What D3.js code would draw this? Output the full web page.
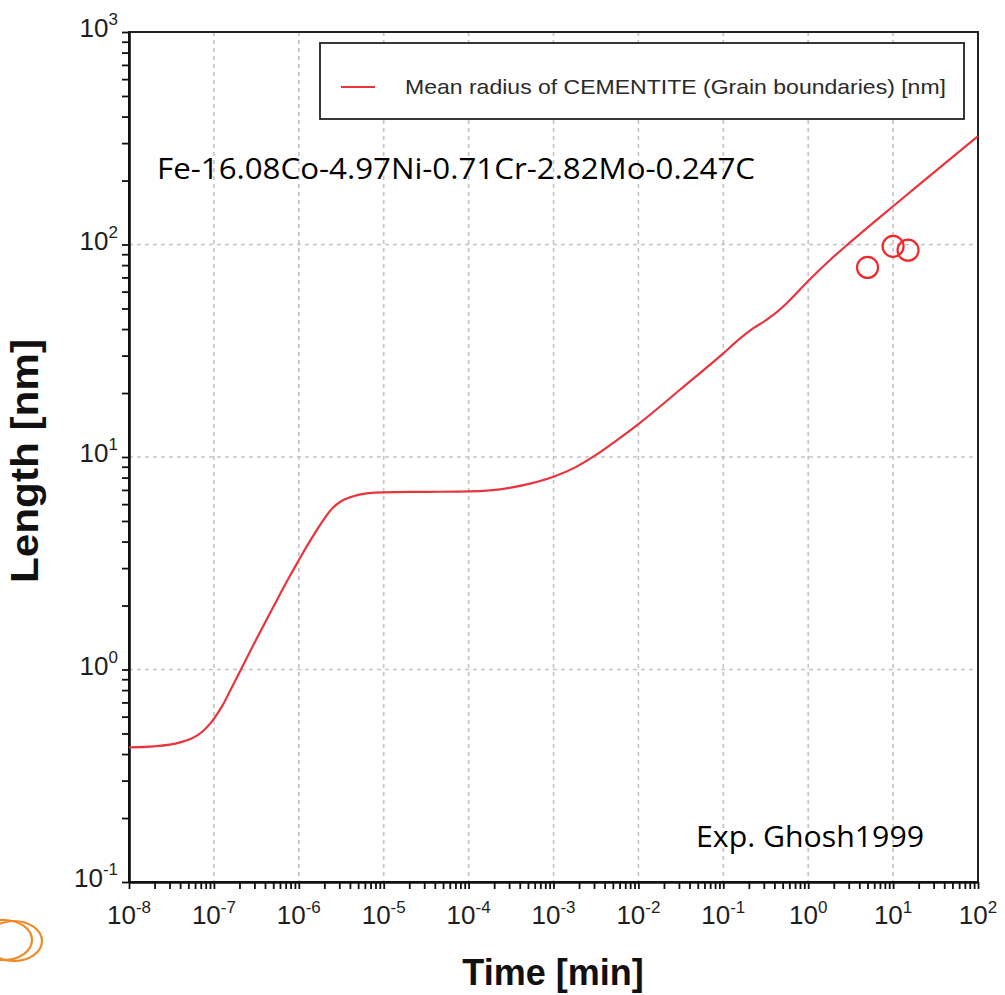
<!DOCTYPE html>
<html>
<head>
<meta charset="utf-8">
<script src="https://cdn.jsdelivr.net/npm/d3@7"></script>
<style>
  html, body { margin: 0; padding: 0; background: #fff; }
  svg { display: block; }
</style>
</head>
<body>
<svg id="chart" width="1005" height="995"></svg>
<script>
// Simulated mean radius of cementite on grain boundaries (time in min, radius in nm)
const simTime = [1e-8, 2e-8, 4e-8, 6.3e-8, 7.9e-8, 1e-7, 1.26e-7, 1.58e-7, 2e-7, 3.16e-7,
                 5e-7, 7.9e-7, 1e-6, 1.26e-6, 1.58e-6, 2e-6, 2.5e-6, 3.16e-6, 4e-6, 5e-6,
                 6.3e-6, 1e-5, 3.16e-5, 1e-4, 1.78e-4, 3.16e-4, 5.6e-4, 1e-3, 1.78e-3, 3.16e-3,
                 5.6e-3, 0.01, 0.0316, 0.1, 0.158, 0.224, 0.316, 0.398, 0.562, 1,
                 1.78, 3.16, 10, 31.6, 100];
const simRadius = [0.43, 0.435, 0.454, 0.488, 0.525, 0.586, 0.676, 0.805, 0.968, 1.387,
                   1.968, 2.767, 3.266, 3.837, 4.446, 5.129, 5.754, 6.194, 6.457, 6.637,
                   6.745, 6.823, 6.855, 6.887, 6.966, 7.178, 7.534, 8.072, 8.913, 10.23,
                   12.02, 14.29, 20.89, 30.76, 36.14, 40.27, 43.95, 46.99, 53.09, 67.3,
                   84.1, 102.8, 151.4, 221.3, 323.6];

// Experimental points (Ghosh 1999)
const expTime = [5, 10, 15];
const expRadius = [78, 98, 94];

// Axis decades
const xDecades = [-8, -7, -6, -5, -4, -3, -2, -1, 0, 1, 2];
const yDecades = [-1, 0, 1, 2, 3];

const legendLabel = "Mean radius of CEMENTITE (Grain boundaries) [nm]";
const alloyLabel = "Fe-16.08Co-4.97Ni-0.71Cr-2.82Mo-0.247C";
const expLabel = "Exp. Ghosh1999";
const xTitle = "Time [min]";
const yTitle = "Length [nm]";

const plot = { left: 129, right: 978, top: 32, bottom: 882 };
const red = "#e8343c";

const svg = d3.select("#chart");

const x = d3.scaleLog().domain([1e-8, 1e2]).range([plot.left, plot.right]);
const y = d3.scaleLog().domain([1e-1, 1e3]).range([plot.bottom, plot.top]);

// all log ticks (1..9 in each decade) for the minor tick marks
function logTicks(decs) {
  const out = [];
  for (let i = 0; i < decs.length; i++) {
    const d = decs[i];
    out.push(Math.pow(10, d));
    if (i < decs.length - 1) for (let m = 2; m <= 9; m++) out.push(m * Math.pow(10, d));
  }
  return out;
}

// dashed grid at every decade
const grid = svg.append("g").attr("stroke", "#c4c4c4").attr("stroke-width", 1.6)
  .attr("stroke-dasharray", "4,4");
grid.selectAll("line.v").data(xDecades.slice(1, -1)).join("line")
  .attr("x1", d => x(Math.pow(10, d))).attr("x2", d => x(Math.pow(10, d)))
  .attr("y1", plot.top).attr("y2", plot.bottom);
grid.selectAll("line.h").data(yDecades.slice(1, -1)).join("line")
  .attr("y1", d => y(Math.pow(10, d))).attr("y2", d => y(Math.pow(10, d)))
  .attr("x1", plot.left).attr("x2", plot.right);

// frame
svg.append("rect")
  .attr("x", plot.left).attr("y", plot.top)
  .attr("width", plot.right - plot.left).attr("height", plot.bottom - plot.top)
  .attr("fill", "none").attr("stroke", "#222").attr("stroke-width", 2);

// axes with tick marks (labels drawn separately as 10^n)
const xAxis = svg.append("g").attr("transform", `translate(0,${plot.bottom})`)
  .call(d3.axisBottom(x).tickValues(logTicks(xDecades)).tickSize(7).tickSizeOuter(0).tickFormat(""));
const yAxis = svg.append("g").attr("transform", `translate(${plot.left},0)`)
  .call(d3.axisLeft(y).tickValues(logTicks(yDecades)).tickSize(7).tickSizeOuter(0).tickFormat(""));
[xAxis, yAxis].forEach(a => {
  a.select(".domain").attr("stroke", "#111").attr("stroke-width", 2.6);
  a.selectAll(".tick line").attr("stroke", "#111").attr("stroke-width", 1.8);
});

const tickFont = "'Liberation Sans', Arial, sans-serif";

// x tick labels
const xl = svg.append("g").attr("font-family", tickFont).attr("fill", "#1e1e1e");
xDecades.forEach(d => {
  const t = xl.append("text").attr("x", x(Math.pow(10, d))).attr("y", plot.bottom + 42)
    .attr("text-anchor", "middle").attr("font-size", 26);
  t.append("tspan").text("10");
  t.append("tspan").attr("font-size", 17).attr("dy", -11).text(d);
});

// y tick labels
const yl = svg.append("g").attr("font-family", tickFont).attr("fill", "#1e1e1e");
yDecades.forEach(d => {
  const t = yl.append("text").attr("x", plot.left - 11).attr("y", y(Math.pow(10, d)) + 5)
    .attr("text-anchor", "end").attr("font-size", 26);
  t.append("tspan").text("10");
  t.append("tspan").attr("font-size", 17).attr("dy", -12).text(d);
});

// axis titles
svg.append("text").attr("x", 553).attr("y", 985).attr("text-anchor", "middle")
  .attr("font-family", tickFont).attr("font-weight", "bold").attr("font-size", 36)
  .attr("fill", "#111").text(xTitle);
svg.append("text").attr("transform", "translate(38,461) rotate(-90)").attr("text-anchor", "middle")
  .attr("font-family", tickFont).attr("font-weight", "bold").attr("font-size", 38)
  .attr("fill", "#111").attr("textLength", 244).attr("lengthAdjust", "spacingAndGlyphs")
  .text(yTitle);

// simulated curve
const line = d3.line().x(d => x(d[0])).y(d => y(d[1])).curve(d3.curveMonotoneX);
svg.append("path").datum(simTime.map((t, i) => [t, simRadius[i]]))
  .attr("d", line).attr("fill", "none").attr("stroke", red).attr("stroke-width", 2.2);

// experimental points
svg.append("g").selectAll("circle").data(expTime.map((t, i) => [t, expRadius[i]])).join("circle")
  .attr("cx", d => x(d[0])).attr("cy", d => y(d[1])).attr("r", 10.5)
  .attr("fill", "none").attr("stroke", "#f02828").attr("stroke-width", 2.2);

// legend
const lg = svg.append("g");
lg.append("rect").attr("x", 320).attr("y", 43).attr("width", 644).attr("height", 76)
  .attr("fill", "#fff").attr("stroke", "#222").attr("stroke-width", 1.8);
lg.append("line").attr("x1", 341).attr("x2", 375).attr("y1", 87).attr("y2", 87)
  .attr("stroke", red).attr("stroke-width", 2.2);
lg.append("text").attr("x", 405).attr("y", 94).attr("font-family", tickFont)
  .attr("font-size", 21).attr("fill", "#2a2a2a").attr("textLength", 541)
  .attr("lengthAdjust", "spacingAndGlyphs").text(legendLabel);

// annotations
const noteFont = "'Open Sans', 'Noto Sans', sans-serif";
svg.append("text").attr("x", 157).attr("y", 179).attr("font-family", noteFont)
  .attr("font-size", 30).attr("fill", "#000").attr("textLength", 598)
  .attr("lengthAdjust", "spacingAndGlyphs").text(alloyLabel);
svg.append("text").attr("x", 696).attr("y", 847).attr("font-family", noteFont)
  .attr("font-size", 30).attr("fill", "#000").attr("textLength", 228)
  .attr("lengthAdjust", "spacingAndGlyphs").text(expLabel);

// orange logo fragment at the lower-left edge
const logo = svg.append("g").attr("fill", "none").attr("stroke", "#ee8a2a").attr("stroke-width", 2.2);
logo.append("ellipse").attr("cx", 4).attr("cy", 940).attr("rx", 28).attr("ry", 20);
logo.append("ellipse").attr("cx", 14).attr("cy", 941).attr("rx", 28).attr("ry", 20);
</script>
</body>
</html>
